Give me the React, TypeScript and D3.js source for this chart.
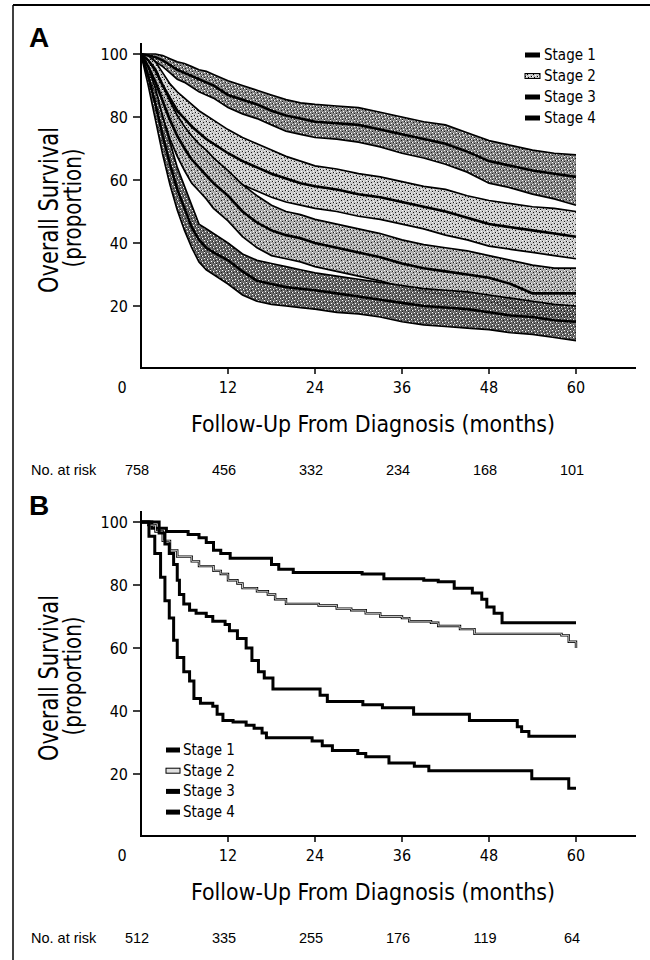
import * as d3 from "d3";

// Panel A: estimated survival (%) with 95% CI, sampled at these months
const MONTHS_A = [0, 1, 2, 3, 4, 5, 6, 7, 8, 9, 10, 12, 14, 16, 18, 20, 22, 24, 27, 30, 33, 36, 39, 42, 45, 48, 51, 54, 57, 60];

const A_S1_MID = [100, 99.5, 99, 98, 96.5, 95, 94, 93, 92, 91, 90, 87, 85.5, 84, 82, 80.5, 79.5, 78.5, 78, 77.5, 76, 74.5, 73, 71.5, 69, 66, 64.5, 63, 62, 61];
const A_S1_HI = [100, 100, 100, 99.5, 98.5, 97.5, 97, 96, 95, 94.5, 93.5, 91.5, 90, 88.5, 87, 85.5, 84.5, 84, 83.5, 83, 81.5, 80, 78.5, 77.5, 75, 72.5, 71, 69.5, 68.5, 68];
const A_S1_LO = [100, 98.5, 97.5, 96, 94, 92, 91, 89.5, 88, 87, 86, 83, 81, 79.5, 77.5, 75.5, 74.5, 73.5, 73, 72, 70.5, 68.5, 67, 65, 62.5, 59, 57.5, 55.5, 54, 52];

const A_S2_MID = [100, 98, 95, 90, 86, 82, 79.5, 77, 75, 73, 71.5, 68.5, 66, 64, 62, 60.5, 59, 58, 57, 55.5, 54.5, 53, 51.5, 50, 48, 46, 45, 44, 43, 42];
const A_S2_HI = [100, 99.5, 97.5, 94, 90.5, 88, 86, 84, 82, 80.5, 79, 76, 73.5, 71.5, 69.5, 67.5, 66, 64.5, 63.5, 62, 61, 59.5, 58, 57, 55, 53.5, 52.5, 51.5, 51, 50];
const A_S2_LO = [100, 96.5, 92.5, 86, 81.5, 76.5, 73, 70, 68, 66, 64, 61, 58.5, 56.5, 54.5, 53, 52, 51, 50, 48.5, 47.5, 46, 44.5, 42.5, 41, 39, 38, 37, 36, 35];

const A_S3_MID = [100, 96, 91, 85, 79, 74, 70, 66.5, 64, 61.5, 59, 55, 50, 46.5, 44, 42.5, 41.5, 40, 38.5, 37, 35.5, 33.5, 32, 31, 30, 29, 27, 24, 24, 24];
const A_S3_HI = [100, 98, 94.5, 90, 85, 80.5, 77, 74, 71.5, 69.5, 67, 63, 58.5, 55, 52, 50, 49, 47.5, 46, 44.5, 43, 41, 39.5, 38.5, 37.5, 36, 34.5, 33, 32, 32];
const A_S3_LO = [100, 94, 87.5, 80, 73, 67.5, 63, 59, 56.5, 54, 51, 47, 42, 38.5, 36, 35, 34, 32.5, 31, 29.5, 28, 26, 24.5, 23.5, 22.5, 21.5, 19.5, 17, 17, 16.5];

const A_S4_MID = [100, 93, 84, 74, 65, 57, 51, 45, 41, 38.5, 37, 34.5, 31, 28, 27, 26, 25.5, 25, 24, 23, 22, 21, 20, 19.5, 19, 18, 17, 16.5, 15.5, 15];
const A_S4_HI = [100, 96, 89, 80, 72, 64, 58, 52, 46, 44.5, 43, 40, 36.5, 34.5, 33.5, 32.5, 31.5, 30.5, 29.5, 28.5, 27.5, 26.5, 25.5, 25, 24.5, 23.5, 22.5, 21.5, 20.5, 20];
const A_S4_LO = [100, 90, 79, 68, 58.5, 50.5, 44, 38.5, 34, 31.5, 30, 27, 23.5, 21.5, 20.5, 20, 19.5, 19, 18, 17.5, 16.5, 15, 14, 13.5, 13, 12.5, 11.5, 11, 10, 9];

// Panel B: step curves as [month, survival %]
const B_S1 = [[0, 100], [1.5, 98], [3.5, 97], [6.5, 96], [8, 95], [9, 93.5], [10, 91], [11, 90], [12.3, 88.5], [18, 86.5], [19, 85], [21, 84], [30.5, 83.5], [33.5, 82], [39, 81.5], [41, 81], [43.2, 79], [45.7, 77.5], [47, 75.5], [47.7, 73], [48.7, 71], [49.8, 68], [60, 68]];
const B_S2 = [[0, 100], [1, 99], [2, 97], [3, 94], [4, 91], [5, 89], [7, 87.5], [8, 86], [10, 84.5], [11, 83.5], [12, 81.5], [13.3, 80.5], [14, 79], [16, 78], [17.5, 77], [18.5, 75.5], [20, 74], [24.5, 73.5], [27, 72.5], [29, 72], [31, 71], [33, 70], [36, 69.5], [37, 68.5], [40, 68], [41, 67], [44, 66], [46, 64.5], [58, 64], [59, 62], [60, 60]];
const B_S3 = [[0, 100], [2.5, 96.5], [3.3, 93], [3.9, 90], [4.5, 86.5], [5, 81.5], [5.3, 77], [5.9, 74], [6.7, 72], [7.6, 71], [9, 70], [9.9, 68.5], [11.6, 67.5], [12.2, 65.5], [13.3, 63], [14.5, 60], [15.3, 56], [16.2, 52.5], [17, 50.5], [18.2, 47], [24.7, 45], [25.7, 43], [30.6, 42], [33.3, 41], [37.6, 39], [45.3, 37], [51.9, 35], [52.5, 33.5], [53.5, 32], [60, 32]];
const B_S4 = [[0, 100], [1.1, 95.5], [1.9, 90], [2.7, 82.5], [3.3, 75], [3.9, 69.5], [4.5, 62.5], [5, 57], [5.9, 52.5], [6.7, 49.5], [7.3, 44], [8.2, 42.5], [9.9, 41.5], [10.5, 39], [11.3, 37], [12.7, 36.5], [14.5, 35.5], [15.6, 34.5], [16.7, 33], [17.3, 31.5], [23.6, 30.5], [25, 29], [26.4, 27.5], [29.9, 26.5], [31, 25.5], [34.2, 23.5], [37.7, 22.5], [39.7, 21], [53.9, 18.5], [59, 15.5], [60, 15.5]];

const STAGES = ["Stage 1", "Stage 2", "Stage 3", "Stage 4"];
const X_TICKS = [12, 24, 36, 48, 60];
const Y_TICKS = [20, 40, 60, 80, 100];
const RISK_MONTHS = [0, 12, 24, 36, 48, 60];
const RISK_A = [758, 456, 332, 234, 168, 101];
const RISK_B = [512, 335, 255, 176, 119, 64];

const COND = "'Liberation Sans Narrow', 'DejaVu Sans Condensed', 'Roboto Condensed', 'Liberation Sans', sans-serif";
const REG = "'Liberation Sans', Arial, sans-serif";
const BAND_FILL = ["#7a7a7a", "#c2c2c2", "#a2a2a2", "#5a5a5a"];

const x = d3.scaleLinear().domain([0, 60]).range([141, 576]);

type Pt = number[];

// halftone-like texture so the CI bands read as stippled, like the scan
function Stipple({id, base}: {id: string; base: string}) {
    return <pattern id={id} width={6} height={6} patternUnits="userSpaceOnUse">
        <rect width={6} height={6} fill={base}/>
        <rect x={0} y={0} width={1} height={1} fill="#fff"/>
        <rect x={3} y={1} width={1} height={1} fill="#fff"/>
        <rect x={1} y={3} width={1} height={1} fill="#fff"/>
        <rect x={4} y={4} width={1} height={1} fill="#fff"/>
        <rect x={2} y={1} width={1} height={1} fill="#000"/>
        <rect x={5} y={2} width={1} height={1} fill="#000"/>
        <rect x={0} y={5} width={1} height={1} fill="#000"/>
        <rect x={3} y={4} width={1} height={1} fill="#000"/>
    </pattern>;
}

function Axes({top, label, risk}: {top: number; label: string; risk: number[]}) {
    const y = d3.scaleLinear().domain([0, 100]).range([top + 315, top]);
    const axisY = top + 314;
    return <g>
        <text x={29} y={top - 7} fontFamily={REG} fontWeight="bold" fontSize={28}>{label}</text>
        <line x1={141} x2={141} y1={top - 11} y2={axisY + 1} stroke="#000" strokeWidth={2}/>
        <line x1={140} x2={636} y1={axisY} y2={axisY} stroke="#000" strokeWidth={2}/>
        {Y_TICKS.map(v => <g key={v}>
            <line x1={133} x2={141} y1={y(v)} y2={y(v)} stroke="#000" strokeWidth={1.5}/>
            <text x={128} y={y(v) + 5.5} textAnchor="end" fontFamily={COND} fontSize={16}>{v}</text>
        </g>)}
        <text x={122} y={axisY + 25} textAnchor="middle" fontFamily={COND} fontSize={16}>0</text>
        {X_TICKS.map(m => <g key={m}>
            <line x1={x(m)} x2={x(m)} y1={axisY} y2={axisY + 6} stroke="#000" strokeWidth={1.5}/>
            <text x={x(m)} y={axisY + 25} textAnchor="middle" fontFamily={COND} fontSize={16}>{m}</text>
        </g>)}
        <text x={373} y={top + 378} textAnchor="middle" fontFamily={COND} fontSize={23}
              textLength={364} lengthAdjust="spacingAndGlyphs">Follow-Up From Diagnosis (months)</text>
        <text transform={`translate(58,${top + 156}) rotate(-90)`} textAnchor="middle" fontFamily={COND}
              fontSize={26} textLength={166} lengthAdjust="spacingAndGlyphs">Overall Survival</text>
        <text transform={`translate(81,${top + 154}) rotate(-90)`} textAnchor="middle" fontFamily={COND}
              fontSize={24} textLength={119} lengthAdjust="spacingAndGlyphs">(proportion)</text>
        <text x={31} y={top + 421} fontFamily={REG} fontSize={14.5}>No. at risk</text>
        {risk.map((n, i) => <text key={i} x={x(RISK_MONTHS[i]) - 4} y={top + 421} textAnchor="middle"
                                  fontFamily={REG} fontSize={14.5}>{n}</text>)}
    </g>;
}

function PanelA() {
    const top = 54;
    const y = d3.scaleLinear().domain([0, 100]).range([top + 315, top]);
    const series = [
        [A_S1_MID, A_S1_LO, A_S1_HI],
        [A_S2_MID, A_S2_LO, A_S2_HI],
        [A_S3_MID, A_S3_LO, A_S3_HI],
        [A_S4_MID, A_S4_LO, A_S4_HI],
    ];
    const line = d3.line<number>()
        .x((_, i) => x(MONTHS_A[i]))
        .y(v => y(v));
    return <g>
        <defs>
            {BAND_FILL.map((c, k) => <Stipple key={k} id={`band${k}`} base={c}/>)}
        </defs>
        <Axes top={top} label="A" risk={RISK_A}/>
        {series.map(([mid, lo, hi], k) => {
            const a = d3.area<number>()
                .x((_, i) => x(MONTHS_A[i]))
                .y0((_, i) => y(lo[i]))
                .y1(v => y(v));
            return <g key={k}>
                <path d={a(hi) ?? ""} fill={`url(#band${k})`} fillOpacity={0.9}/>
                <path d={line(hi) ?? ""} fill="none" stroke="#000" strokeWidth={1.7}/>
                <path d={line(lo) ?? ""} fill="none" stroke="#000" strokeWidth={1.7}/>
            </g>;
        })}
        {series.map(([mid], k) =>
            <path key={k} d={line(mid) ?? ""} fill="none" stroke="#000" strokeWidth={2.6}/>)}
        {STAGES.map((s, i) => {
            const ly = 55 + i * 21;
            return <g key={s}>
                <rect x={525} y={ly - 2.5} width={15} height={5}
                      fill={i === 1 ? "url(#band1)" : "#000"} stroke="#000" strokeWidth={i === 1 ? 1 : 0}/>
                <text x={544} y={ly + 5} fontFamily={COND} fontSize={15}>{s}</text>
            </g>;
        })}
    </g>;
}

function PanelB() {
    const top = 522;
    const y = d3.scaleLinear().domain([0, 100]).range([top + 315, top]);
    const line = d3.line<Pt>()
        .x(d => x(d[0]))
        .y(d => y(d[1]))
        .curve(d3.curveStepAfter);
    return <g>
        <Axes top={top} label="B" risk={RISK_B}/>
        <path d={line(B_S1) ?? ""} fill="none" stroke="#000" strokeWidth={3}/>
        <path d={line(B_S2) ?? ""} fill="none" stroke="#000" strokeWidth={2.4}/>
        <path d={line(B_S2) ?? ""} fill="none" stroke="#d8d8d8" strokeWidth={0.9}/>
        <path d={line(B_S3) ?? ""} fill="none" stroke="#000" strokeWidth={3}/>
        <path d={line(B_S4) ?? ""} fill="none" stroke="#000" strokeWidth={3}/>
        {STAGES.map((s, i) => {
            const ly = 750 + i * 20.7;
            return <g key={s}>
                <rect x={166} y={ly - 2.5} width={14} height={5}
                      fill={i === 1 ? "#e0e0e0" : "#000"} stroke="#000" strokeWidth={i === 1 ? 1 : 0}/>
                <text x={183} y={ly + 5} fontFamily={COND} fontSize={15}>{s}</text>
            </g>;
        })}
    </g>;
}

export default function App() {
    return <svg width={650} height={960} style={{position: "absolute", left: 0, top: 0, background: "#fff"}}>
        <rect width={650} height={960} fill="#fff"/>
        <line x1={13} x2={650} y1={5} y2={5} stroke="#000" strokeWidth={2}/>
        <line x1={13} x2={13} y1={5} y2={960} stroke="#000" strokeWidth={1.5}/>
        <PanelA/>
        <PanelB/>
    </svg>;
}
